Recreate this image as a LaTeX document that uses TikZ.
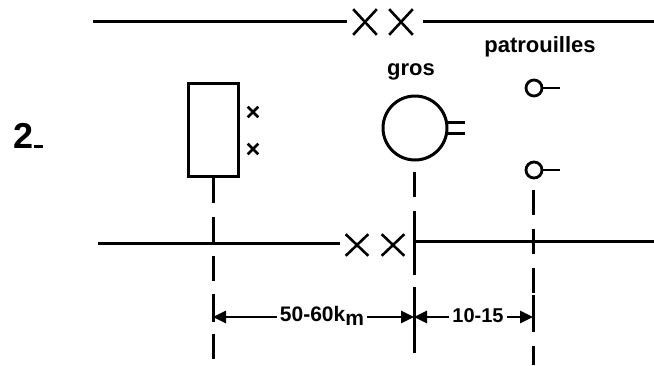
\documentclass[tikz,border=0pt]{standalone}
\usepackage{fontspec}
\setmainfont{Liberation Sans}
\usetikzlibrary{arrows.meta,shapes.misc}
\begin{document}
\begin{tikzpicture}[x=1pt,y=-1pt, line width=3pt,
  bigx/.style={cross out,draw,minimum width=21pt,minimum height=23pt,inner sep=0pt,line width=2.6pt},
  lowx/.style={cross out,draw,minimum width=20pt,minimum height=19pt,inner sep=0pt,line width=2.6pt},
  smallx/.style={cross out,draw,minimum size=8pt,inner sep=0pt,line width=2.6pt},
  lbl/.style={font=\bfseries\fontsize{22}{24}\selectfont, inner sep=0pt},
  dimlbl/.style={font=\bfseries\fontsize{20}{22}\selectfont, inner xsep=3pt, inner ysep=1pt, fill=white},
  dashline/.style={dash pattern=on 25pt off 14pt},
  dim/.style={{Triangle[length=13pt,width=12pt]}-{Triangle[length=13pt,width=12pt]}, line width=2.8pt}
]
\useasboundingbox (0,0) rectangle (654,365);

% number
\node[font=\bfseries\fontsize{36}{40}\selectfont, inner sep=0pt, anchor=base west] (num) at (12,148) {2\rule{9pt}{3pt}};

% top line with XX
\coordinate (tl) at (93,21);
\coordinate (tle) at (347,21);
\coordinate (trs) at (423,21);
\coordinate (tr) at (654,21);
\node[bigx] (tx1) at (365,22) {};
\node[bigx] (tx2) at (401,22) {};
\draw (tl) -- (tle);
\draw (trs) -- (tr);

% lower line with XX
\coordinate (bl) at (98,243);
\coordinate (ble) at (340,243);
\node[lowx] (bx1) at (357,245) {};
\node[lowx] (bx2) at (393,245) {};
\coordinate (brs) at (414,241);
\coordinate (br) at (654,241);
\draw (bl) -- (ble);
\draw (brs) -- (br);
\draw (brs) ++(0,-10) -- ++(0,24);

% unit rectangle with crosses
\node[draw, minimum width=50pt, minimum height=93pt, inner sep=0pt] (unit) at (213,129.5) {};
\node[smallx] (ux1) at (253,112) {};
\node[smallx] (ux2) at (253,149) {};

% gros
\node[draw, circle, minimum size=64pt, inner sep=0pt] (gros) at (415,128) {};
\node[lbl] (groslbl) at (411,72) {gros};
\draw (gros.10) -- ++(17,0);
\draw (gros.-10) -- ++(17,0);

% patrouilles
\node[lbl] (patlbl) at (540,47) {patrouilles};
\node[draw, circle, minimum size=16pt, inner sep=0pt, line width=2.8pt] (p1) at (534,88) {};
\node[draw, circle, minimum size=16pt, inner sep=0pt, line width=2.8pt] (p2) at (534,170) {};
\draw[line width=2.8pt] (p1.east) -- ++(17,0);
\draw[line width=2.8pt] (p2.east) -- ++(17,0);

% dashed verticals
\coordinate (ue) at (213,365);
\coordinate (gs) at (414,172);
\coordinate (ge) at (414,365);
\coordinate (ps) at (533,190);
\coordinate (pe) at (533,365);
\draw[dashline] (unit.south) -- (ue);
\draw[dashline] (gs) -- (ge);
\draw[dashline] (ps) -- (pe);

% dimensions
\coordinate (d1) at (213,317);
\coordinate (d2) at (414,317);
\coordinate (d3) at (533,317);
\draw (d1) ++(0,-23) -- ++(0,28);
\draw (d2) ++(0,-30) -- ++(0,62);
\draw (d3) ++(0,-22) -- ++(0,27);
\draw[dim] (d1) -- (d2);
\draw[dim] (d2) -- (d3);
\node[dimlbl, font=\bfseries\fontsize{21}{23}\selectfont] (l1) at (322,316) {50-60k\raisebox{-4pt}{m}};
\node[dimlbl] (l2) at (478,316) {10-15};
\end{tikzpicture}
\end{document}
